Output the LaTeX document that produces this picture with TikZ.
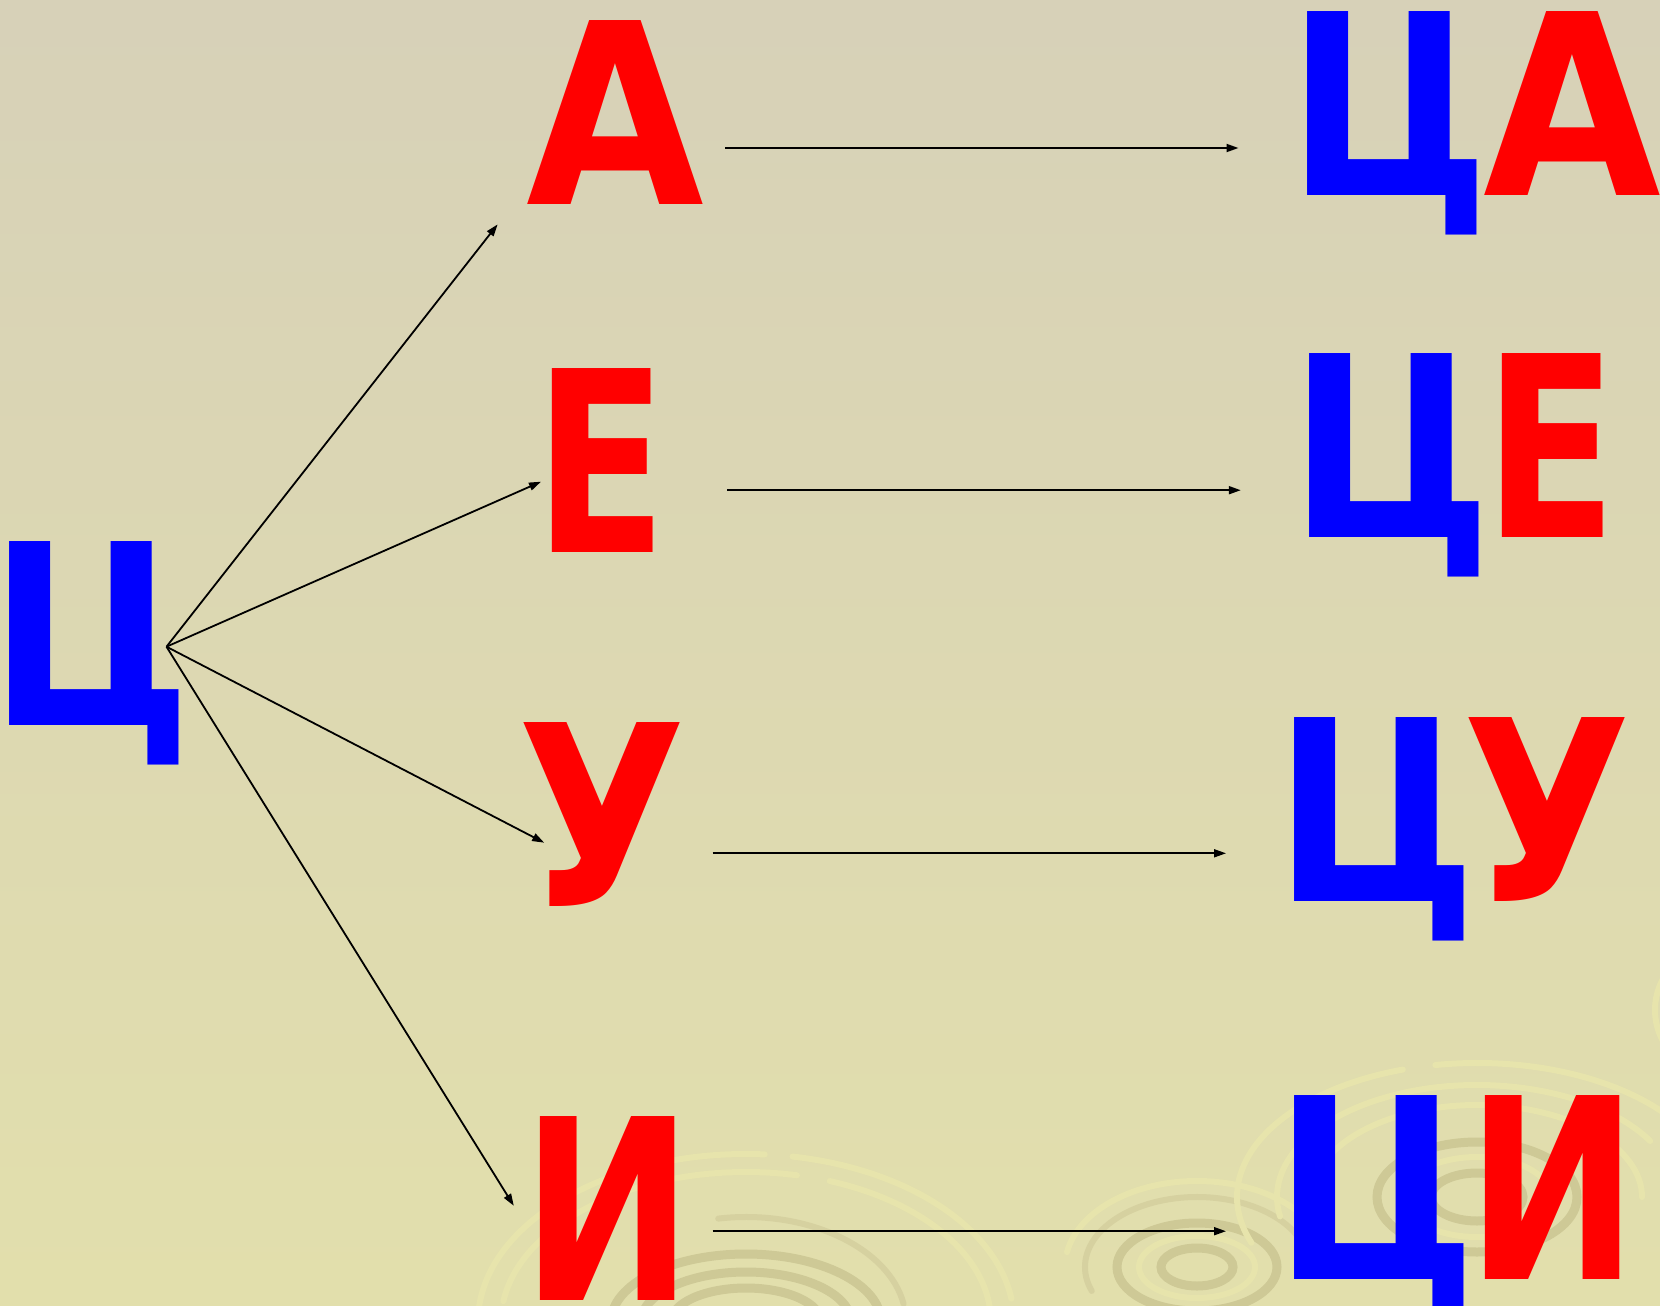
\documentclass[tikz,border=0pt]{standalone}
\usepackage{fontspec}
\setmainfont{DejaVu Sans}
\usetikzlibrary{arrows.meta}
\definecolor{bgtop}{RGB}{215,209,184}
\definecolor{bgbot}{RGB}{226,223,172}
\definecolor{swl}{RGB}{231,228,172}
\definecolor{swg}{RGB}{214,209,160}
\definecolor{swd}{RGB}{206,201,150}
\definecolor{lblue}{RGB}{0,0,255}
\definecolor{lred}{RGB}{255,0,0}
\newcommand\bigletters{\fontsize{252.4}{300}\selectfont\bfseries}
\newcommand\sx[2]{\scalebox{#1}[1]{#2}}
\newcommand\swarc[7]{\draw[#7] (#1,#2) ++(-#5:#3 and #4) arc[start angle=-#5,end angle=-#6,x radius=#3,y radius=#4];}
\begin{document}
\begin{tikzpicture}[x=1pt,y=-1pt,
 ltr/.style={inner sep=0pt, outer sep=0pt, anchor=base, font=\bigletters},
 cyr/.style={ltr, text=lblue},
 vow/.style={ltr, text=lred},
 arr/.style={draw=black, line width=1.8pt, -{Triangle[length=12pt,width=8pt]}},
 lring/.style={draw=swl, line width=6pt, line cap=round},
 gring/.style={draw=swg, line width=6pt, line cap=round},
 dring/.style={draw=swd, line width=9pt},
]
\useasboundingbox (0,0) rectangle (1660,1306);
\clip (0,0) rectangle (1660,1306);
\shade[top color=bgtop, bottom color=bgbot] (0,0) rectangle (1660,1306);

% swirl 1
\swarc{746}{1322}{268}{168}{8}{80}{lring}
\swarc{746}{1322}{268}{168}{86}{176}{lring}
\swarc{746}{1322}{245}{150}{5}{70}{lring}
\swarc{746}{1322}{245}{150}{78}{172}{lring}
\swarc{746}{1322}{160}{105}{10}{100}{gring}
\swarc{746}{1322}{135}{68}{0}{180}{dring}
\swarc{746}{1322}{105}{50}{0}{180}{dring}
\swarc{746}{1322}{75}{34}{0}{180}{dring}
% swirl 2
\swarc{1197}{1267}{132}{86}{35}{170}{lring}
\swarc{1197}{1267}{112}{70}{20}{200}{gring}
\draw[dring] (1197,1267) ellipse[x radius=80, y radius=44];
\draw[lring] (1197,1267) ellipse[x radius=58, y radius=31];
\draw[dring] (1197,1267) ellipse[x radius=36, y radius=19];
% swirl 3
\swarc{1477}{1197}{240}{134}{15}{100}{lring}
\swarc{1477}{1197}{240}{134}{108}{200}{lring}
\swarc{1477}{1197}{200}{112}{30}{190}{lring}
\swarc{1477}{1197}{165}{92}{0}{160}{lring}
\draw[dring] (1477,1197) ellipse[x radius=100, y radius=55];
\draw[lring] (1477,1197) ellipse[x radius=74, y radius=40];
\draw[dring] (1477,1197) ellipse[x radius=46, y radius=24];
\swarc{1720}{1010}{65}{65}{150}{210}{lring}

% letters, left column
\node[cyr] (C) at (91,725) {\sx{0.865}{Ц}};
\node[vow] (A) at (615,204.7) {\sx{0.91}{А}};
\node[vow] (E) at (600.8,552.6) {\sx{0.77}{Е}};
\node[vow] (U) at (602,906.7) {\sx{0.87}{У}};
\node[vow] (I) at (608,1300) {\sx{0.815}{И}};
% right column
\node[cyr] (CA1) at (1389,195.3) {\sx{0.865}{Ц}};
\node[vow] (CA2) at (1572,195.3) {\sx{0.91}{А}};
\node[cyr] (CE1) at (1391,537.8) {\sx{0.865}{Ц}};
\node[vow] (CE2) at (1551.3,537.8) {\sx{0.77}{Е}};
\node[cyr] (CU1) at (1375.5,901) {\sx{0.865}{Ц}};
\node[vow] (CU2) at (1546.7,901) {\sx{0.87}{У}};
\node[cyr] (CI1) at (1375.5,1279) {\sx{0.865}{Ц}};
\node[vow] (CI2) at (1552.6,1279) {\sx{0.815}{И}};

% connectors
\coordinate (hub) at (166.5,646.7);
\coordinate (tA) at (497.6,224.4);
\coordinate (tE) at (541,481.7);
\coordinate (tU) at (544.2,842.7);
\coordinate (tI) at (513.8,1205.8);
\draw[arr] (hub) -- (tA);
\draw[arr] (hub) -- (tE);
\draw[arr] (hub) -- (tU);
\draw[arr] (hub) -- (tI);
\coordinate (s1) at (725.2,148); \coordinate (e1) at (1238.5,148);
\coordinate (s2) at (727.3,490.2); \coordinate (e2) at (1240.8,490.2);
\coordinate (s3) at (712.5,853.3); \coordinate (e3) at (1226,853.3);
\coordinate (s4) at (712.5,1231.2); \coordinate (e4) at (1226,1231.2);
\draw[arr] (s1) -- (e1);
\draw[arr] (s2) -- (e2);
\draw[arr] (s3) -- (e3);
\draw[arr] (s4) -- (e4);
\end{tikzpicture}
\end{document}
